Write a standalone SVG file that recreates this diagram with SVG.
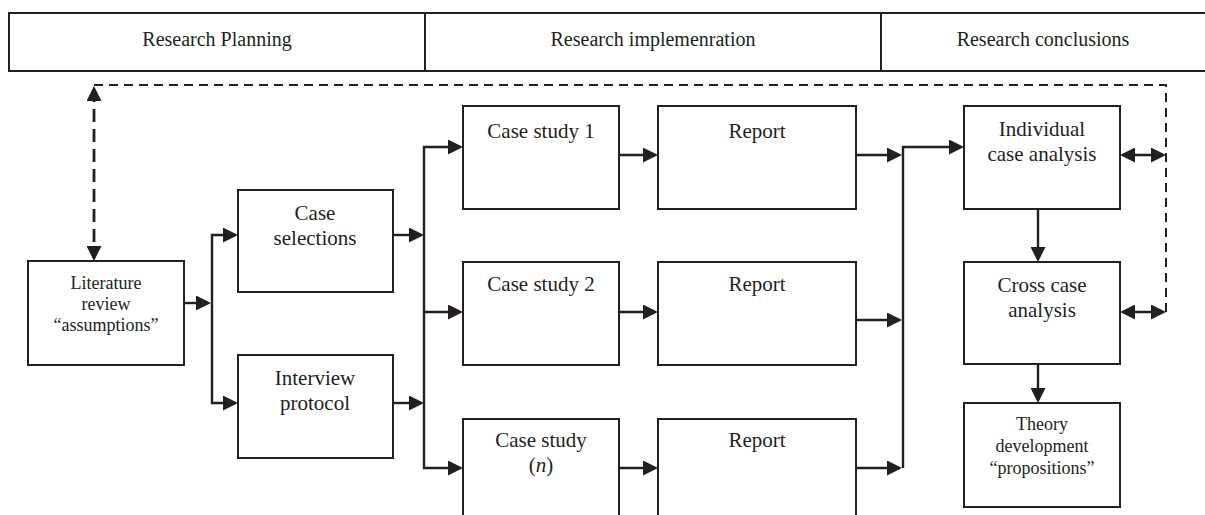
<svg xmlns="http://www.w3.org/2000/svg" width="1205" height="515" viewBox="0 0 1205 515">
  <defs>
    <marker id="arrow" markerUnits="userSpaceOnUse" markerWidth="15" markerHeight="15" refX="12" refY="7.5" orient="auto-start-reverse">
      <path d="M0,0 L15,7.5 L0,15 Z" fill="#231f20"/>
    </marker>
    <style>
      .box { fill: #ffffff; stroke: #231f20; stroke-width: 2; }
      .hdr { fill: none; stroke: #231f20; stroke-width: 2; }
      .lbl { font-family: "Liberation Serif", "Times New Roman", serif; font-size: 21px; fill: #231f20; text-anchor: middle; }
      .sm { font-size: 18px; }
      .head { font-size: 20px; }
      .link { fill: none; stroke: #231f20; stroke-width: 2.4; stroke-linejoin: miter; }
      .dash { fill: none; stroke: #231f20; stroke-width: 2; stroke-dasharray: 9 6; }
      .dashv { fill: none; stroke: #231f20; stroke-width: 2.8; stroke-dasharray: 13 7; }
    </style>
  </defs>

  <rect width="1205" height="515" fill="#ffffff"/>

  <!-- phase header -->
  <g id="phases">
    <path class="hdr" d="M1205,13 H9 V71 H1205 M425,13 V71 M881,13 V71"/>
    <text class="lbl head" x="217" y="46">Research Planning</text>
    <text class="lbl head" x="653" y="46">Research implemenration</text>
    <text class="lbl head" x="1043" y="46">Research conclusions</text>
  </g>

  <!-- connectors -->
  <g id="connectors">
    <path class="dashv" d="M94,89 V258" marker-start="url(#arrow)" marker-end="url(#arrow)"/>
    <path class="dash" d="M94,85 H1166 V312"/>

    <path class="link" d="M184,303 H208" marker-end="url(#arrow)"/>
    <path class="link" d="M235,235 H212 V403 H235" marker-start="url(#arrow)" marker-end="url(#arrow)"/>

    <path class="link" d="M393,235 H421" marker-end="url(#arrow)"/>
    <path class="link" d="M393,403 H421" marker-end="url(#arrow)"/>

    <path class="link" d="M460,147 H424 V468 H460" marker-start="url(#arrow)" marker-end="url(#arrow)"/>
    <path class="link" d="M424,312 H460" marker-end="url(#arrow)"/>

    <path class="link" d="M619,155 H655" marker-end="url(#arrow)"/>
    <path class="link" d="M619,312 H655" marker-end="url(#arrow)"/>
    <path class="link" d="M619,468 H655" marker-end="url(#arrow)"/>

    <path class="link" d="M856,155 H899" marker-end="url(#arrow)"/>
    <path class="link" d="M856,320 H899" marker-end="url(#arrow)"/>
    <path class="link" d="M856,468 H899" marker-end="url(#arrow)"/>
    <path class="link" d="M903,468 V147 H961" marker-end="url(#arrow)"/>

    <path class="link" d="M1038,209 V259" marker-end="url(#arrow)"/>
    <path class="link" d="M1038,364 V400" marker-end="url(#arrow)"/>

    <path class="link" d="M1123,155 H1163" marker-start="url(#arrow)" marker-end="url(#arrow)"/>
    <path class="link" d="M1123,312 H1163" marker-start="url(#arrow)" marker-end="url(#arrow)"/>
  </g>

  <!-- planning -->
  <g id="literature-review">
    <rect class="box" x="28" y="261" width="156" height="104"/>
    <text class="lbl sm" x="106" y="289">Literature</text>
    <text class="lbl sm" x="106" y="310">review</text>
    <text class="lbl sm" x="106" y="331">“assumptions”</text>
  </g>
  <g id="case-selections">
    <rect class="box" x="238" y="190" width="155" height="102"/>
    <text class="lbl" x="315" y="220">Case</text>
    <text class="lbl" x="315" y="245">selections</text>
  </g>
  <g id="interview-protocol">
    <rect class="box" x="238" y="355" width="155" height="103"/>
    <text class="lbl" x="315" y="385">Interview</text>
    <text class="lbl" x="315" y="410">protocol</text>
  </g>

  <!-- implementation -->
  <g id="case-study-1">
    <rect class="box" x="463" y="106" width="156" height="103"/>
    <text class="lbl" x="541" y="138">Case study 1</text>
  </g>
  <g id="report-1">
    <rect class="box" x="658" y="106" width="198" height="103"/>
    <text class="lbl" x="757" y="138">Report</text>
  </g>
  <g id="case-study-2">
    <rect class="box" x="463" y="262" width="156" height="103"/>
    <text class="lbl" x="541" y="291">Case study 2</text>
  </g>
  <g id="report-2">
    <rect class="box" x="658" y="262" width="198" height="103"/>
    <text class="lbl" x="757" y="291">Report</text>
  </g>
  <g id="case-study-n">
    <rect class="box" x="463" y="419" width="156" height="110"/>
    <text class="lbl" x="541" y="447">Case study</text>
    <text class="lbl" x="541" y="472">(<tspan font-style="italic">n</tspan>)</text>
  </g>
  <g id="report-n">
    <rect class="box" x="658" y="419" width="198" height="110"/>
    <text class="lbl" x="757" y="447">Report</text>
  </g>

  <!-- conclusions -->
  <g id="individual-case-analysis">
    <rect class="box" x="964" y="106" width="156" height="103"/>
    <text class="lbl" x="1042" y="136">Individual</text>
    <text class="lbl" x="1042" y="161">case analysis</text>
  </g>
  <g id="cross-case-analysis">
    <rect class="box" x="964" y="262" width="156" height="102"/>
    <text class="lbl" x="1042" y="292">Cross case</text>
    <text class="lbl" x="1042" y="317">analysis</text>
  </g>
  <g id="theory-development">
    <rect class="box" x="964" y="403" width="156" height="104"/>
    <text class="lbl sm" x="1042" y="430">Theory</text>
    <text class="lbl sm" x="1042" y="452">development</text>
    <text class="lbl sm" x="1042" y="474">“propositions”</text>
  </g>
</svg>
